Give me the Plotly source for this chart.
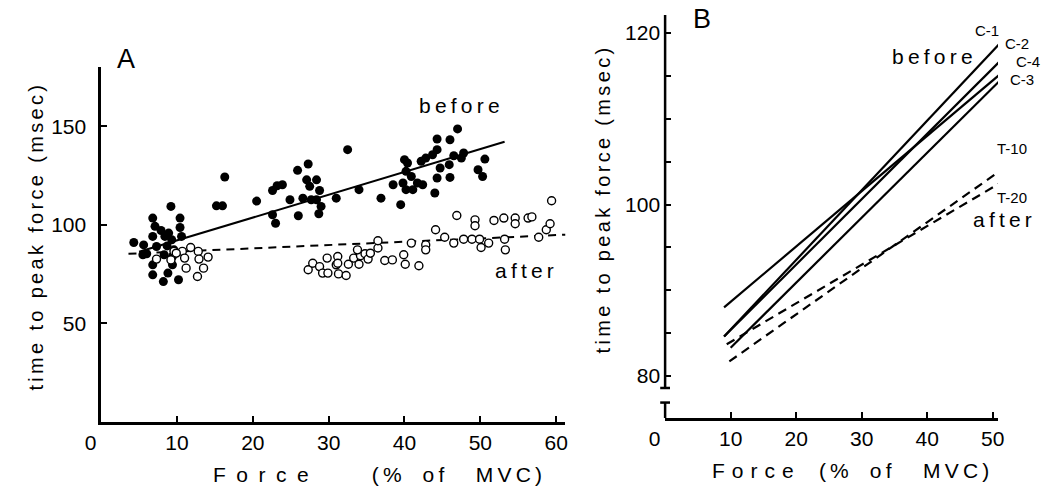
import plotly.graph_objects as go

# ---- panel A data ----
before_x = [4.3, 5.6, 5.5, 6.8, 7.1, 6.8, 7.9, 8.4, 8.9, 9.3, 8.7, 8.3, 9.2, 10.4, 10.4, 10.6,
            9.6, 9.4, 6.8, 6.8, 8.2, 8.8, 10.2, 9.4, 6.0, 7.3,
            15.2, 16.0, 16.3, 20.5, 22.6, 23.2, 23.9, 22.6, 23.0, 24.9, 25.9, 26.0, 27.3, 27.1,
            27.5, 28.4, 26.6, 27.7, 28.8, 28.7, 29.0, 31.0, 28.4,
            32.5, 34.0, 36.9, 39.5, 38.5, 40.0, 40.4, 40.2, 39.8, 40.2, 41.1, 40.9, 41.7, 42.4,
            42.2, 42.8, 43.7, 44.3, 44.3, 44.7, 44.3, 44.0, 46.0, 47.0, 45.9, 46.0, 46.5, 47.5,
            47.8, 50.6, 49.7, 50.3]
before_y = [91.0, 89.8, 84.8, 103.4, 99.2, 94.1, 97.1, 94.1, 95.8, 92.4, 89.3, 84.8, 109.3, 103.4, 98.6, 94.1,
            87.3, 83.9, 79.7, 74.6, 71.2, 75.5, 72.1, 79.7, 85.3, 89.0,
            109.6, 109.6, 124.2, 112.0, 117.4, 119.8, 120.3, 105.1, 100.8, 112.7, 127.6, 104.6, 130.8, 122.8,
            119.5, 122.8, 113.5, 112.7, 117.4, 105.6, 109.3, 113.5, 112.7,
            138.1, 117.8, 113.5, 110.2, 120.3, 133.0, 131.3, 127.1, 121.2, 117.8, 117.8, 124.5, 121.2, 120.3,
            132.2, 133.8, 135.5, 138.1, 143.5, 128.8, 123.7, 116.1, 143.1, 148.6, 130.5, 124.0, 135.0, 133.8,
            136.4, 133.3, 127.9, 124.5]

after_x = [9.6, 10.7, 9.2, 7.3, 11.0, 11.8, 12.8, 12.9, 14.1, 13.5, 12.7, 11.2, 9.9,
           27.3, 27.9, 28.8, 29.2, 29.9, 29.8, 31.0, 31.2, 31.2, 31.3, 32.3, 32.6, 33.3, 34.0,
           34.2, 33.8, 34.8, 35.2, 35.5, 36.5, 36.5, 37.4, 38.4, 39.9, 40.1, 41.9, 40.9, 42.8,
           42.8, 44.1, 45.3, 46.5, 46.9, 47.8, 48.9, 49.3, 49.3, 49.9, 50.1, 51.1, 51.8, 53.1,
           53.2, 53.3, 54.6, 54.6, 56.3, 56.8, 57.7, 58.7, 59.2, 59.4]
after_y = [86.5, 86.5, 82.2, 82.6, 83.1, 88.5, 86.5, 82.6, 83.6, 78.0, 73.8, 78.0, 85.6,
           77.2, 80.5, 78.8, 75.5, 75.5, 83.1, 79.7, 83.9, 80.5, 75.1, 74.3, 80.0, 83.1, 80.0,
           84.3, 87.3, 85.3, 82.6, 85.6, 88.2, 91.9, 81.9, 82.2, 84.8, 80.0, 79.2, 90.7, 89.8,
           87.3, 97.5, 93.7, 90.7, 104.7, 92.7, 92.7, 102.5, 99.5, 92.7, 88.5, 90.7, 102.2, 103.4,
           92.7, 87.3, 103.4, 100.5, 103.4, 104.0, 93.7, 97.5, 100.5, 112.2]

before_fit_x = [5.0, 53.2]
before_fit_y = [86.3, 142.1]
after_fit_x = [3.6, 61.4]
after_fit_y = [85.3, 95.0]

# ---- panel B data: regression lines per subject ----
b_names = ["C-1", "C-2", "C-4", "C-3", "T-10", "T-20"]
b_x0 = [9.0, 9.0, 9.0, 10.0, 9.8, 9.4]
b_y0 = [84.6, 84.6, 88.0, 83.3, 81.7, 83.7]
b_x1 = [51.6, 52.0, 53.0, 53.0, 53.5, 52.9]
b_y1 = [119.2, 117.4, 116.4, 115.9, 105.2, 103.3]

ticks_a = [0, 10, 20, 30, 40, 50, 60]
ticks_b = [0, 10, 20, 30, 40, 50]

W, H = 1050, 488
FONT = "Liberation Sans, Arial, Helvetica, sans-serif"
NARROW = "Liberation Sans Narrow, Liberation Sans, Arial, sans-serif"

def px(x):
    return x / W

def py(y):
    return 1 - y / H

# domains (pixel positions in the reference)
ax_dom = [px(87), px(561)]
ay_dom = [py(422), py(67)]
bx_dom = [px(663), px(1003)]
by_dom = [py(418), py(15)]
by_range = [75.1, 122.1]

fig = go.Figure()

fig.add_trace(go.Scatter(x=before_fit_x, y=before_fit_y, mode="lines",
                         line=dict(color="black", width=2), showlegend=False))
fig.add_trace(go.Scatter(x=after_fit_x, y=after_fit_y, mode="lines",
                         line=dict(color="black", width=2, dash="8px,6px"), showlegend=False))
fig.add_trace(go.Scatter(x=before_x, y=before_y, mode="markers",
                         marker=dict(color="black", size=9, line=dict(width=0)), showlegend=False))
fig.add_trace(go.Scatter(x=after_x, y=after_y, mode="markers",
                         marker=dict(color="white", size=8, line=dict(color="black", width=1.4)),
                         showlegend=False))

for name, x0, y0, x1, y1 in zip(b_names, b_x0, b_y0, b_x1, b_y1):
    dashed = name.startswith("T")
    fig.add_trace(go.Scatter(x=[x0, x1], y=[y0, y1], mode="lines", xaxis="x2", yaxis="y2",
                             line=dict(color="black", width=2.2, dash="9px,6px" if dashed else "solid"),
                             showlegend=False, name=name))

tickfont = dict(family=FONT, size=21, color="black")
axis_common = dict(showgrid=False, zeroline=False, showline=True, linecolor="black",
                   linewidth=2.5, ticks="inside", ticklen=6, tickwidth=2, tickcolor="black",
                   tickfont=tickfont)

fig.update_layout(
    width=W, height=H,
    margin=dict(l=0, r=0, t=0, b=0),
    paper_bgcolor="white", plot_bgcolor="white",
    xaxis=dict(domain=ax_dom, range=[0, 61.2], anchor="y", tickvals=ticks_a,
               ticktext=["0\u2002\u2002"] + [str(t) for t in ticks_a[1:]],
               ticklabelstandoff=0, **axis_common),
    yaxis=dict(domain=ay_dom, range=[0, 180], anchor="x", tickvals=[50, 100, 150],
               ticklabelstandoff=8, **axis_common),
    xaxis2=dict(domain=bx_dom, range=[0, 50.8], anchor="y2", tickvals=ticks_b,
                ticktext=["0\u2002\u2002"] + [str(t) for t in ticks_b[1:]],
                ticklabelstandoff=0, **axis_common),
    yaxis2=dict(domain=by_dom, range=by_range, anchor="x2", tickvals=[80, 100, 120],
                ticklabelstandoff=4,
                minor=dict(tickvals=[85, 90, 95, 105, 110, 115], ticks="inside", ticklen=6,
                           tickwidth=2, tickcolor="black"),
                **{**axis_common, "showline": False}),
)

# broken y axis for panel B
def by_paper(v):
    return by_dom[0] + (v - by_range[0]) / (by_range[1] - by_range[0]) * (by_dom[1] - by_dom[0])

xb = bx_dom[0]
cap = 5 / W
line_style = dict(color="black", width=2.5)
fig.add_shape(type="line", xref="paper", yref="paper", x0=xb, x1=xb,
              y0=by_paper(78.6), y1=by_dom[1], line=line_style)
fig.add_shape(type="line", xref="paper", yref="paper", x0=xb - cap, x1=xb + cap,
              y0=by_paper(78.6), y1=by_paper(78.6), line=line_style)
fig.add_shape(type="line", xref="paper", yref="paper", x0=xb, x1=xb,
              y0=by_dom[0], y1=by_paper(76.9), line=line_style)
fig.add_shape(type="line", xref="paper", yref="paper", x0=xb - cap, x1=xb + cap,
              y0=by_paper(76.9), y1=by_paper(76.9), line=line_style)

def label(text, x, y, size=21, family=FONT, angle=0, anchor="center"):
    fig.add_annotation(text=text, x=px(x), y=py(y), xref="paper", yref="paper",
                       showarrow=False, textangle=angle, xanchor=anchor, yanchor="middle",
                       font=dict(family=family, size=size, color="black"))

sp6 = "\u2006"
ytitle = sp6.join("time to peak force (msec)")
label(ytitle, 20, 238, size=20, angle=-90)
label(ytitle, 600, 200, size=20, angle=-90)

label("F\u2002o\u2002r\u2002c\u2002e\u2003\u2003\u2003(\u2009%\u2003o\u2009f\u2003\u2002M\u2009V\u2009C\u2009)",
      369, 474)
label("F\u2004o\u2004r\u2004c\u2004e\u2003\u2009(\u2009%\u2003o\u2009f\u2003\u2002M\u2009V\u2009C\u2009)",
      852, 470)

label("A", 112, 59, size=27)
label("B", 701, 19, size=27)

label("b\u2009e\u2009f\u2009o\u2009r\u2009e", 453, 106)
label("a\u2009f\u2009t\u2009e\u2009r", 519, 270)
label("b\u2009e\u2009f\u2009o\u2009r\u2009e", 936, 56)
label("a\u2009f\u2009t\u2009e\u2009r", 1040, 219, anchor="right")

# right edges of the subject labels
name_pos = {"C-1": (1006, 30), "C-2": (1037, 44), "C-4": (1048, 62), "C-3": (1042, 80),
            "T-10": (1035, 148), "T-20": (1035, 197)}
for name in b_names:
    label(name, *name_pos[name], size=15, family=NARROW, anchor="right")

# the page body keeps a default 8px margin; drop it so the figure fills the window
fig.write_html("out.html", config={"displayModeBar": False},
               post_script="document.body.style.margin='0';document.body.style.overflow='hidden';")
